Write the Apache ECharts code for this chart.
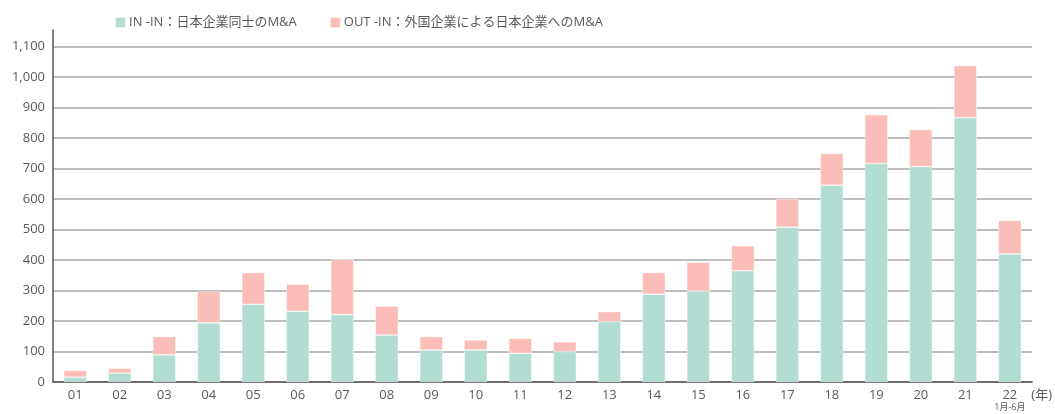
<!DOCTYPE html>
<html>
<head>
<meta charset="utf-8">
<script src="https://cdn.jsdelivr.net/npm/echarts@6/dist/echarts.min.js"></script>
<style>html,body{margin:0;padding:0;background:#fff}#c{width:1055px;height:414px}</style>
</head>
<body>
<div id="c"></div>
<script>
const categories = ['01','02','03','04','05','06','07','08','09','10','11','12','13','14','15','16','17','18','19','20','21','22'];
const inIn  = [16, 29, 89, 194, 255, 232, 221, 154, 105, 105, 94, 100, 198, 288, 298, 365, 508, 646, 717, 707, 867, 420];
const outIn = [22, 16, 60, 103, 104, 89, 182, 95, 44, 33, 49, 32, 33, 71, 95, 82, 93, 104, 160, 121, 171, 110];
const seriesNames = ['IN -IN：日本企業同士のM&A', 'OUT -IN：外国企業による日本企業へのM&A'];
const yTicks = [0, 100, 200, 300, 400, 500, 600, 700, 800, 900, 1000, 1100];

const FONT = "'Open Sans', 'Noto Sans CJK JP', sans-serif";
const chart = echarts.init(document.getElementById('c'), null, {renderer: 'canvas'});
chart.setOption({
  animation: false,
  backgroundColor: '#fff',
  textStyle: {fontFamily: FONT},
  legend: {
    left: 109, top: 11, itemWidth: 11, itemHeight: 11, itemGap: 32,
    icon: 'rect',
    textStyle: {fontSize: 13, color: '#5a5a5a', fontFamily: FONT, padding: [0,0,0,-2]},
    data: seriesNames
  },
  grid: {left: 53, right: 22, top: 30, bottom: 32, containLabel: false},
  xAxis: {
    type: 'category',
    data: categories,
    name: '(年)',
    nameLocation: 'end',
    nameGap: -4,
    nameTextStyle: {fontSize: 13, color: '#5a5a5a', verticalAlign: 'top', padding: [7,0,0,0], fontFamily: FONT},
    axisLine: {lineStyle: {color: '#555', width: 1.5}},
    axisTick: {show: false},
    axisLabel: {
      interval: 0,
      fontSize: 13, color: '#5a5a5a', margin: 7, fontFamily: FONT,
      formatter: v => v === '22' ? v + '\n{s|1月-6月}' : v,
      rich: {s: {fontSize: 9, lineHeight: 11, color: '#5a5a5a', fontFamily: FONT}}
    }
  },
  yAxis: {
    type: 'value',
    min: 0, max: 1155, interval: 100,
    axisLine: {show: true, lineStyle: {color: '#555', width: 1.5}},
    axisTick: {show: false},
    axisLabel: {
      fontSize: 13, color: '#5a5a5a', margin: 8, fontFamily: FONT, showMaxLabel: false,
      formatter: v => yTicks.indexOf(v) >= 0 ? v.toLocaleString('en-US') : ''
    },
    splitLine: {show: true, showMaxLine: false, lineStyle: {color: '#a9a9a9', width: 1.5}}
  },
  series: [
    {name: seriesNames[0], type: 'bar', stack: 'a', data: inIn, barWidth: 23,
     itemStyle: {color: '#b2ddd2', borderColor: 'rgba(255,255,255,0.7)', borderWidth: 0.6}},
    {name: seriesNames[1], type: 'bar', stack: 'a', data: outIn, barWidth: 23,
     itemStyle: {color: '#fabdb7', borderColor: 'rgba(255,255,255,0.7)', borderWidth: 0.6}}
  ]
});
</script>
</body>
</html>
